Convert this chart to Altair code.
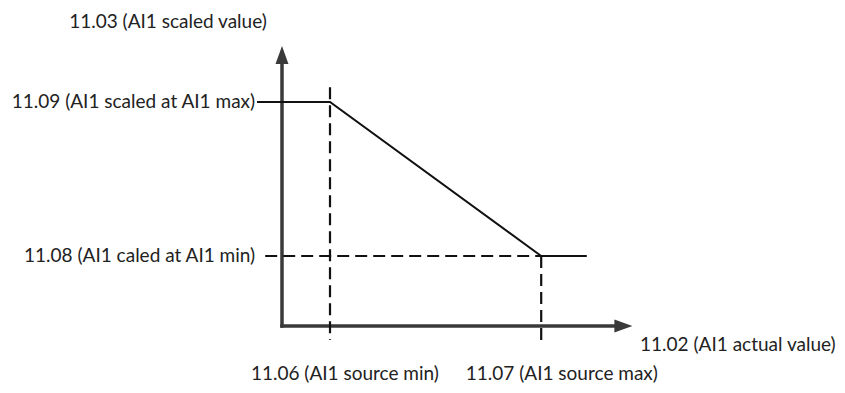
import altair as alt
import pandas as pd

# Semantic values (abstract units)
x_src_min = 1.0
x_src_max = 5.4
y_scaled_min = 1.0
y_scaled_max = 3.2

# Signal polyline
sig_x = [-0.52, x_src_min, x_src_max, 6.35]
sig_y = [y_scaled_max, y_scaled_max, y_scaled_min, y_scaled_min]

# Axes
axis_x = [0, 0]
axis_x2 = [0, 7.05]
axis_y = [0, 0]
axis_y2 = [3.85, 0]

# Dashed guides
dash_x = [x_src_min, x_src_max, -0.35]
dash_x2 = [x_src_min, x_src_max, x_src_max]
dash_y = [3.41, y_scaled_min, y_scaled_min]
dash_y2 = [-0.2, -0.2, y_scaled_min]

# Labels
lab_text = ["11.03 (AI1 scaled value)", "11.09 (AI1 scaled at AI1 max)",
            "11.08 (AI1 caled at AI1 min)", "11.06 (AI1 source min)",
            "11.07 (AI1 source max)", "11.02 (AI1 actual value)"]
lab_x = [-2.375, -0.56, -0.56, 1.31, 5.83, 7.46]
lab_y = [4.343, y_scaled_max, y_scaled_min, -0.835, -0.835, -0.271]
lab_align = ["center", "right", "right", "center", "center", "left"]
lab_base = ["middle", "middle", "middle", "bottom", "bottom", "middle"]

xs = alt.Scale(domain=[-5.7083, 11.5625], nice=False, zero=False)
ys = alt.Scale(domain=[-0.8429, 4.5429], nice=False, zero=False)
X = lambda f: alt.X(f, type="quantitative", scale=xs, axis=None)
Y = lambda f: alt.Y(f, type="quantitative", scale=ys, axis=None)

axes_df = pd.DataFrame({"x": axis_x, "x2": axis_x2, "y": axis_y, "y2": axis_y2})
axes = alt.Chart(axes_df).mark_rule(color="#3a3a3a", strokeWidth=3.5, strokeCap="square").encode(
    x=X("x"), x2="x2", y=Y("y"), y2="y2")

heads_df = pd.DataFrame({"x": [0, 7.3], "y": [4.0, 0], "dir": ["up", "right"]})
head_up = alt.Chart(heads_df[heads_df.dir == "up"]).mark_point(
    shape="M0,0 L-0.36,1 L0.36,1 Z", size=1296, filled=True, color="#3a3a3a", opacity=1, strokeWidth=0
).encode(x=X("x"), y=Y("y"))
head_right = alt.Chart(heads_df[heads_df.dir == "right"]).mark_point(
    shape="M0,0 L-1,-0.36 L-1,0.36 Z", size=1296, filled=True, color="#3a3a3a", opacity=1, strokeWidth=0
).encode(x=X("x"), y=Y("y"))

sig_df = pd.DataFrame({"x": sig_x, "y": sig_y, "o": list(range(len(sig_x)))})
signal = alt.Chart(sig_df).mark_line(color="#111111", strokeWidth=2).encode(
    x=X("x"), y=Y("y"), order="o:Q")

dash_df = pd.DataFrame({"x": dash_x, "x2": dash_x2, "y": dash_y, "y2": dash_y2})
dashes = alt.Chart(dash_df).mark_rule(color="#111111", strokeWidth=2.2, strokeDash=[12, 6]).encode(
    x=X("x"), x2="x2", y=Y("y"), y2="y2")

lab_df = pd.DataFrame({"t": lab_text, "x": lab_x, "y": lab_y, "a": lab_align, "b": lab_base})
texts = []
for a in ["center", "right", "left"]:
    for b in ["middle", "bottom"]:
        sub = lab_df[(lab_df.a == a) & (lab_df.b == b)]
        if len(sub) == 0:
            continue
        texts.append(alt.Chart(sub).mark_text(
            align=a, baseline=b, font="Lato", fontSize=19, color="#222222"
        ).encode(x=X("x"), y=Y("y"), text="t:N"))

chart = alt.layer(axes, head_up, head_right, dashes, signal, *texts).properties(
    width=829, height=377, padding=0, autosize=alt.AutoSizeParams(type="none")
).configure(background="white", view=alt.ViewConfig(stroke="transparent"))

chart.save("out.html", embed_options={"renderer": "svg", "actions": False})
